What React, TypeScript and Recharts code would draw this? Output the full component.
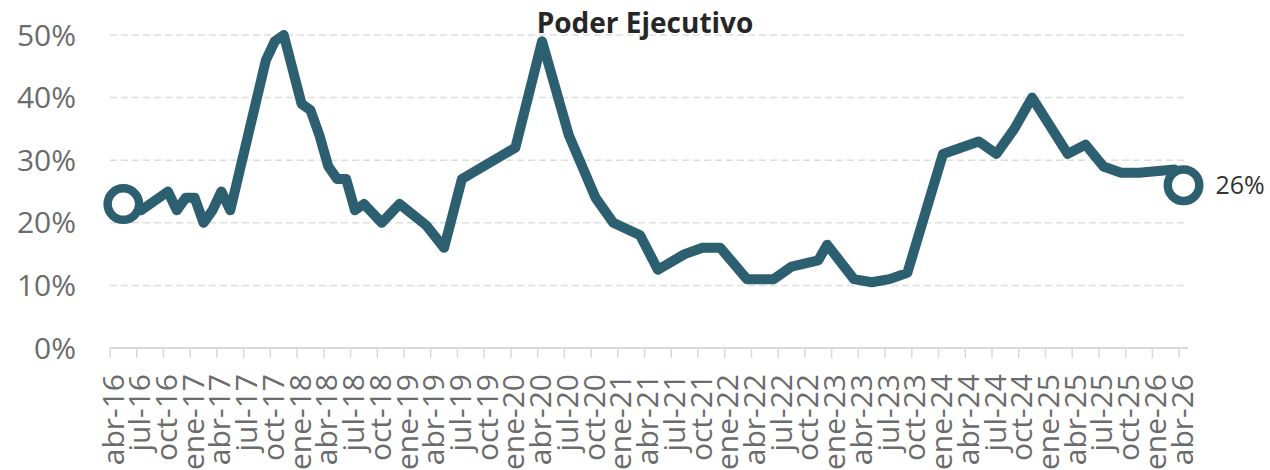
import React from "react";
import { LineChart, Line, XAxis, YAxis, CartesianGrid } from "recharts";

const monthNames = ["ene", "feb", "mar", "abr", "may", "jun", "jul", "ago", "sep", "oct", "nov", "dic"];
const years = ["16", "17", "18", "19", "20", "21", "22", "23", "24", "25", "26"];

const tickLabels = [
  "abr-16", "jul-16", "oct-16", "ene-17", "abr-17", "jul-17", "oct-17", "ene-18", "abr-18", "jul-18", "oct-18",
  "ene-19", "abr-19", "jul-19", "oct-19", "ene-20", "abr-20", "jul-20", "oct-20", "ene-21", "abr-21", "jul-21",
  "oct-21", "ene-22", "abr-22", "jul-22", "oct-22", "ene-23", "abr-23", "jul-23", "oct-23", "ene-24", "abr-24",
  "jul-24", "oct-24", "ene-25", "abr-25", "jul-25", "oct-25", "ene-26", "abr-26",
];

const pointMonths = [
  "may-16", "jul-16", "oct-16", "nov-16", "dic-16", "ene-17", "feb-17", "mar-17", "abr-17", "may-17",
  "sep-17", "oct-17", "nov-17", "ene-18", "feb-18", "mar-18", "abr-18", "may-18", "jun-18", "jul-18",
  "ago-18", "oct-18", "dic-18", "mar-19", "may-19", "jul-19", "ene-20", "abr-20", "jul-20", "oct-20",
  "dic-20", "mar-21", "may-21", "ago-21", "oct-21", "dic-21", "mar-22", "jun-22", "ago-22", "nov-22",
  "dic-22", "mar-23", "may-23", "jul-23", "sep-23", "ene-24", "may-24", "jul-24", "sep-24", "nov-24",
  "mar-25", "may-25", "jul-25", "sep-25", "nov-25", "mar-26", "abr-26",
];
const pointValues = [
  23, 22, 25, 22, 24, 24, 20, 22, 25, 22,
  46, 49, 50, 39, 38, 34, 29, 27, 27, 22,
  23, 20, 23, 19.6, 16, 27, 32, 49, 34, 24,
  20, 18, 12.5, 15, 16, 16, 11, 11, 13, 14,
  16.5, 11, 10.5, 11, 12, 31, 33, 31, 35, 40,
  31, 32.5, 29, 28, 28, 28.5, 26,
];

const markerMonths = ["may-16", "abr-26"];
const markerValues = [23, 26];

const yTicks = [0, 10, 20, 30, 40, 50];

// all month categories from abr-16 to abr-26
const allMonths: string[] = [];
years.forEach((yy) => monthNames.forEach((mm) => allMonths.push(`${mm}-${yy}`)));
const monthLabels = allMonths.slice(allMonths.indexOf("abr-16"), allMonths.indexOf("abr-26") + 1);

const monthPos = (label: string) => monthLabels.indexOf(label) + 0.5;

const lineData = pointMonths.map((m, i) => ({ x: monthPos(m), value: pointValues[i] }));
const markerData = markerMonths.map((m, i) => ({ x: monthPos(m), marker: markerValues[i] }));
const xTicks = tickLabels.map((l) => monthLabels.indexOf(l));

const COLOR = "#2c6070";
const FONT = "'Open Sans', sans-serif";

const XTick = (props: any) => {
  const { x, y, payload } = props;
  const label = monthLabels[payload.value];
  return (
    <text
      x={0}
      y={0}
      dy="0.35em"
      textAnchor="end"
      transform={`translate(${x + 3},${y}) rotate(-90)`}
      fill="#6b6b6b"
      fontSize={30}
      fontFamily={FONT}
    >
      {label}
    </text>
  );
};

const MarkerDot = (props: any) => {
  const { cx, cy } = props;
  if (cx == null || cy == null) return null;
  return <circle cx={cx} cy={cy} r={15.75} fill="#ffffff" stroke={COLOR} strokeWidth={8.5} />;
};

const EndLabel = (props: any) => {
  const { x, y, index, value } = props;
  if (index !== markerData.length - 1) return null;
  return (
    <text x={x + 32} y={y} dy="0.35em" textAnchor="start" fill="#333333" fontSize={25} fontFamily={FONT}>
      {`${value}%`}
    </text>
  );
};

export default function App() {
  return (
    <div style={{ position: "absolute", left: 0, top: 0, width: 1270, height: 470, background: "#fff" }}>
      <LineChart
        width={1270}
        height={470}
        margin={{ top: 35, right: 82, bottom: 0, left: 0 }}
        style={{ fontFamily: FONT }}
      >
        <CartesianGrid vertical={false} stroke="#dedede" strokeDasharray="7 4" strokeWidth={1.5} />
        <XAxis
          type="number"
          dataKey="x"
          domain={[0, monthLabels.length]}
          ticks={xTicks}
          interval={0}
          allowDecimals={false}
          height={122}
          axisLine={{ stroke: "#d9d9d9", strokeWidth: 2 }}
          tickLine={{ stroke: "#d9d9d9", strokeWidth: 1.5 }}
          tickSize={10}
          tickMargin={16}
          tick={<XTick />}
        />
        <YAxis
          type="number"
          domain={[0, 50]}
          ticks={yTicks}
          interval={0}
          width={110}
          axisLine={false}
          tickLine={false}
          tickSize={0}
          tickMargin={34}
          tickFormatter={(v: number) => `${v}%`}
          tick={{ fill: "#6b6b6b", fontSize: 30, fontFamily: FONT }}
        />
        <Line
          data={lineData}
          dataKey="value"
          type="linear"
          stroke={COLOR}
          strokeWidth={10}
          strokeLinejoin="round"
          strokeLinecap="round"
          dot={false}
          activeDot={false}
          isAnimationActive={false}
        />
        <Line
          data={markerData}
          dataKey="marker"
          type="linear"
          stroke="none"
          dot={<MarkerDot />}
          activeDot={false}
          label={<EndLabel />}
          isAnimationActive={false}
        />
      </LineChart>
      <svg width={1270} height={60} style={{ position: "absolute", left: 0, top: 0, pointerEvents: "none" }}>
        <text x={645} y={33} textAnchor="middle" fontSize={28} fontWeight="bold" fill="#262626" fontFamily={FONT}>
          Poder Ejecutivo
        </text>
      </svg>
    </div>
  );
}
